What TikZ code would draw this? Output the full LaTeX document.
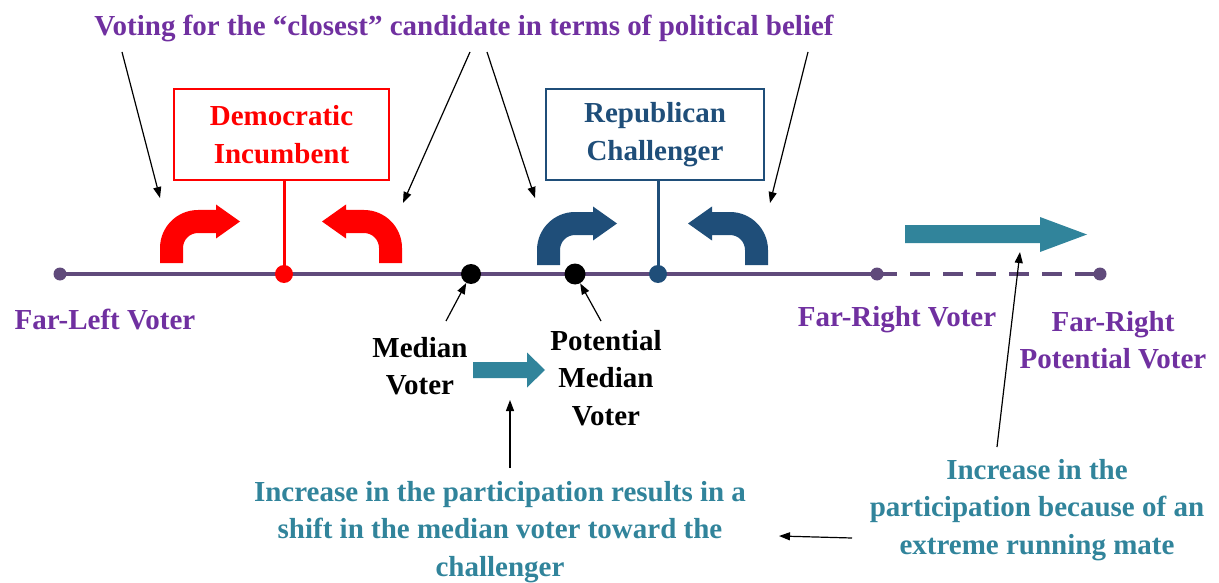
\documentclass[tikz,border=0pt]{standalone}
\usepackage{fontspec}
\setmainfont{Liberation Serif}
\usetikzlibrary{arrows.meta}
\definecolor{ttl}{HTML}{7030A0}
\definecolor{axis}{HTML}{604A7B}
\definecolor{demred}{HTML}{FF0000}
\definecolor{repblue}{HTML}{1F4E79}
\definecolor{teal}{HTML}{31849B}
\tikzset{
  lbl/.style={font=\bfseries\fontsize{29}{37.5}\selectfont, align=center, inner sep=0},
  dot/.style={circle, inner sep=0, draw=none},
  pointer/.style={line width=1.2, -{Triangle[length=11,width=8]}},
  bentarrow/.pic={
    \path[pic actions, yscale=-1] (0,0) -- (0,15) arc[start angle=180, end angle=90, radius=38]
      -- (56,53) -- (56,58.5) -- (80,41.5) -- (56,24.5) -- (56,30)
      -- (38,30) arc[start angle=90, end angle=180, radius=15] -- (23,0) -- cycle;
  }
}
\begin{document}
\begin{tikzpicture}[x=1pt,y=-1pt]
\useasboundingbox (0,0) rectangle (1219,583);
% axis coordinates
\coordinate (pFL) at (60,274);
\coordinate (pD) at (284,274);
\coordinate (pM) at (471,274);
\coordinate (pP) at (575,274);
\coordinate (pR) at (658,274);
\coordinate (pFR) at (877,274);
\coordinate (pFRP) at (1100,274);
\draw[axis, line width=3.5] (pFL) -- (pFR);
\draw[axis, line width=4.5, dash pattern=on 20pt off 13pt] (pFR) -- (pFRP);

% title
\node[lbl, text=ttl] (title) at (464,28) {Voting for the “closest” candidate in terms of political belief};

% boxes
\node[lbl, draw=demred, line width=1.5, minimum width=215, minimum height=91, text=demred] (dem) at (281.5,134.5) {Democratic\\Incumbent};
\node[lbl, draw=repblue, line width=1.5, minimum width=218, minimum height=91, text=repblue] (rep) at (655,134.5) {Republican\\Challenger};

\draw[demred, line width=3] (dem.south -| pD) -- (pD);
\draw[repblue, line width=3] (rep.south -| pR) -- (pR);

% dots
\node[dot, fill=axis, minimum size=13] (fl) at (pFL) {};
\node[dot, fill=demred, minimum size=18] (dd) at (pD) {};
\node[dot, fill=black, minimum size=20] (md) at (pM) {};
\node[dot, fill=black, minimum size=21] (pd) at (pP) {};
\node[dot, fill=repblue, minimum size=18] (rd) at (pR) {};
\node[dot, fill=axis, minimum size=13] (fr) at (pFR) {};
\node[dot, fill=axis, minimum size=13] (frp) at (pFRP) {};

% bent arrows
\pic[fill=demred] at (160,263) {bentarrow};
\pic[fill=demred, xscale=-1] at (402,263) {bentarrow};
\pic[fill=repblue] at (537,265) {bentarrow};
\pic[fill=repblue, xscale=-1] at (768,265) {bentarrow};

% teal block arrows
\fill[teal] (905,225) -- (1040,225) -- (1040,217) -- (1087,234.5) -- (1040,252) -- (1040,243) -- (905,243) -- cycle;
\fill[teal] (473,362) -- (527,362) -- (527,352.5) -- (545,370) -- (527,387.5) -- (527,378) -- (473,378) -- cycle;

% labels
\node[lbl, text=ttl] (lfl) at (105,320) {Far-Left Voter};
\node[lbl] (lmed) at (420,366) {Median\\Voter};
\node[lbl] (lpot) at (606,378) {Potential\\Median\\Voter};
\node[lbl, text=ttl] (lfr) at (897,320) {Far-Right Voter};
\node[lbl, text=ttl] (lfrp) at (1113,340) {Far-Right\\Potential Voter};
\node[lbl, text=teal] (lshift) at (500,532) {Increase in the participation results in a\\shift in the median voter toward the\\challenger};
\node[lbl, text=teal] (lmate) at (1037,510) {Increase in the\\participation because of an\\extreme running mate};

% pointers
\coordinate (t1) at (122,52);
\coordinate (t2) at (470,52);
\coordinate (t3) at (487,52);
\coordinate (t4) at (808,52);
\coordinate (a1) at (160,198);
\coordinate (a2) at (403,203);
\coordinate (a3) at (535,198);
\coordinate (a4) at (770,203);
\draw[pointer] (t1) -- (a1);
\draw[pointer] (t2) -- (a2);
\draw[pointer] (t3) -- (a3);
\draw[pointer] (t4) -- (a4);
\coordinate (m1) at (446,321);
\coordinate (p1) at (601,321);
\draw[pointer] (m1) -- (md);
\draw[pointer] (p1) -- (pd);
\coordinate (s1) at (510,468);
\coordinate (s2) at (510,400);
\draw[pointer] (s1) -- (s2);
\coordinate (e1) at (997,447);
\coordinate (e2) at (1020,252);
\draw[pointer] (e1) -- (e2);
\coordinate (r1) at (852,538);
\coordinate (r2) at (779,536);
\draw[pointer] (r1) -- (r2);
\end{tikzpicture}
\end{document}
